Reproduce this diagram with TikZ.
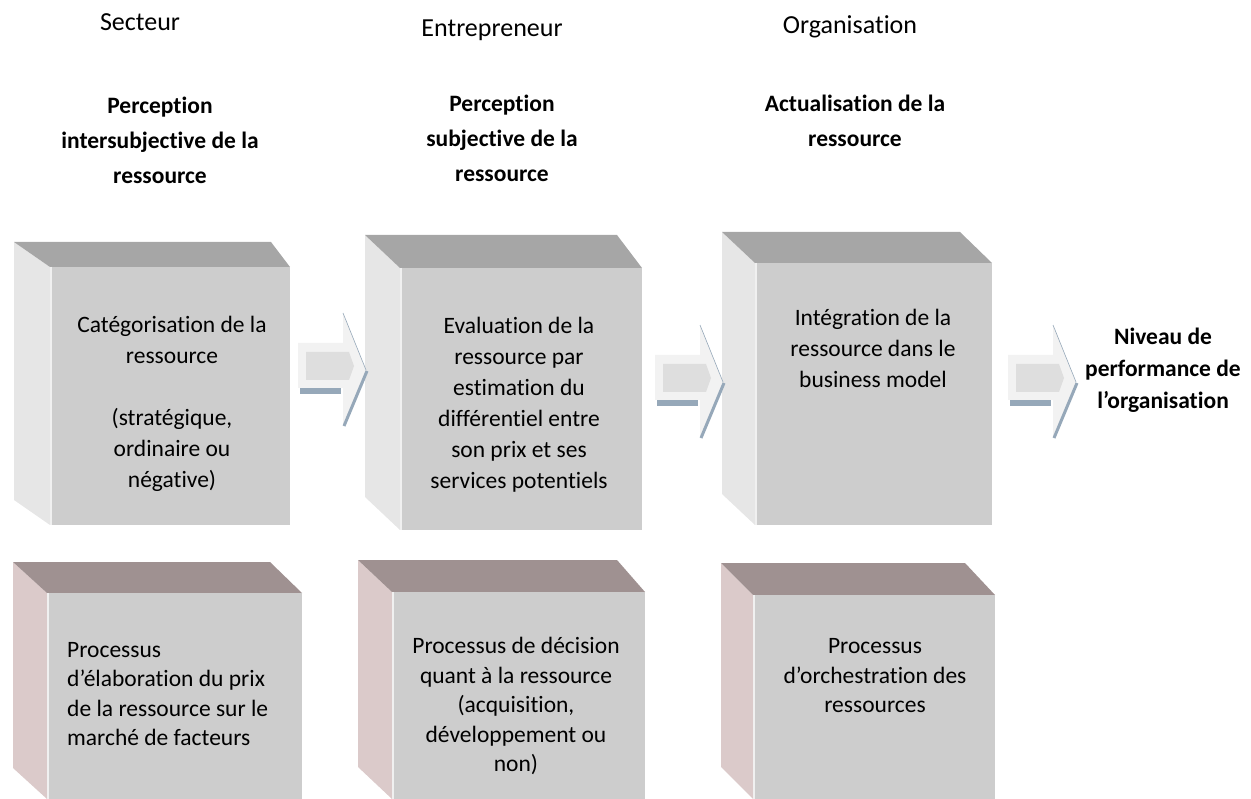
\documentclass[tikz,border=0pt]{standalone}
\usepackage{fontspec}
\setmainfont{Carlito}[Ligatures=NoCommon]
\usetikzlibrary{positioning}

\definecolor{faceavant}{HTML}{CDCDCD}
\definecolor{dessusgris}{HTML}{A6A6A6}
\definecolor{cotegris}{HTML}{E6E6E6}
\definecolor{dessusmauve}{HTML}{9F9191}
\definecolor{cotemauve}{HTML}{DBCACA}
\definecolor{ombrebleue}{HTML}{96A8B9}

% cube : front left, front top, front right, bottom, back left, back top, back right, top colour, side colour
\newcommand{\boite}[9]{
    \fill[#9] (#5,#6) -- (#1,#2) -- (#1,#4) -- (#5,#4-#2+#6) -- cycle;
    \fill[#8] (#5,#6) -- (#7,#6) -- (#3,#2) -- (#1,#2) -- cycle;
    \fill[faceavant] (#1,#2) rectangle (#3,#4);
    \draw[white!70!faceavant, line width=1.5pt] (#1+1,#2) -- (#1+1,#4);
}

% block arrow : left of the shaft, height of the tip
\newcommand{\flechebloc}[2]{
    \fill[black!5] (#1,#2-27) -- (#1+45,#2-27) -- (#1+45,#2-57) -- (#1+68,#2)
        -- (#1+45,#2+57) -- (#1+45,#2+18) -- (#1,#2+18) -- cycle;
    \fill[black!13] (#1+8,#2-18) -- (#1+51,#2-18) -- (#1+56,#2-4)
        -- (#1+51,#2+10) -- (#1+8,#2+10) -- cycle;
    \fill[ombrebleue] (#1+2,#2+18) rectangle (#1+43,#2+24);
    \draw[ombrebleue, line width=0.6pt] (#1+45,#2-57) -- (#1+68,#2);
    \draw[ombrebleue, line width=3pt] (#1+69,#2+1) -- (#1+46,#2+56);
}

\begin{document}
\begin{tikzpicture}[
    x = 1pt, y = -1pt, % pixel grid, y downwards
    inner sep = 0pt
    ]

    \tikzset{
    acteur/.style = {font=\fontsize{26}{30}\selectfont},
    titre/.style = {align=center, font=\fontsize{23.5}{35}\selectfont\bfseries},
    texte/.style = {align=center, font=\fontsize{23.5}{31}\selectfont},
    texteproc/.style = {align=center, font=\fontsize{23.5}{29.5}\selectfont}
    }

    \useasboundingbox (0,0) rectangle (1251,799);

    % headers
    \node[acteur] (secteur) at (140,22) {Secteur};
    \node[acteur] (entrepreneur) at (492,30) {Entrepreneur};
    \node[acteur] (organisation) at (850,27) {Organisation};

    \node[titre] (titre1) at (160,140) {Perception\\intersubjective de la\\ressource};
    \node[titre] (titre2) at (502,138) {Perception\\subjective de la\\ressource};
    \node[titre] (titre3) at (855,121) {Actualisation de la\\ressource};

    % upper row
    \boite{50}{267}{290}{525}{14}{242}{271}{dessusgris}{cotegris}
    \boite{400}{268}{642}{530}{365}{235}{617}{dessusgris}{cotegris}
    \boite{755}{263}{992}{525}{722}{232}{960}{dessusgris}{cotegris}

    % lower row
    \boite{47}{593}{302}{799}{13}{562}{270}{dessusmauve}{cotemauve}
    \boite{392}{592}{645}{799}{358}{560}{617}{dessusmauve}{cotemauve}
    \boite{753}{595}{995}{799}{721}{563}{965}{dessusmauve}{cotemauve}

    % arrows
    \flechebloc{298}{370}
    \flechebloc{655}{382}
    \flechebloc{1008}{382}

    \node[texte] (categ) at (172,404) {Catégorisation de la\\ressource\\[31pt](stratégique,\\ordinaire ou\\négative)};
    \node[texte] (evaluation) at (519,405) {Evaluation de la\\ressource par\\estimation du\\différentiel entre\\son prix et ses\\services potentiels};
    \node[texte] (integration) at (873,348) {Intégration de la\\ressource dans le\\business model};

    \node[texteproc, align=left, anchor=west] (prix) at (67,694) {Processus\\d’élaboration du prix\\de la ressource sur le\\marché de facteurs};
    \node[texteproc] (decision) at (516,706) {Processus de décision\\quant à la ressource\\(acquisition,\\développement ou\\non)};
    \node[texteproc] (orchestration) at (875,676) {Processus\\d’orchestration des\\ressources};

    \node[titre, font=\fontsize{23.5}{32}\selectfont\bfseries] (performance) at (1163,370) {Niveau de\\performance de\\l’organisation};
\end{tikzpicture}
\end{document}
